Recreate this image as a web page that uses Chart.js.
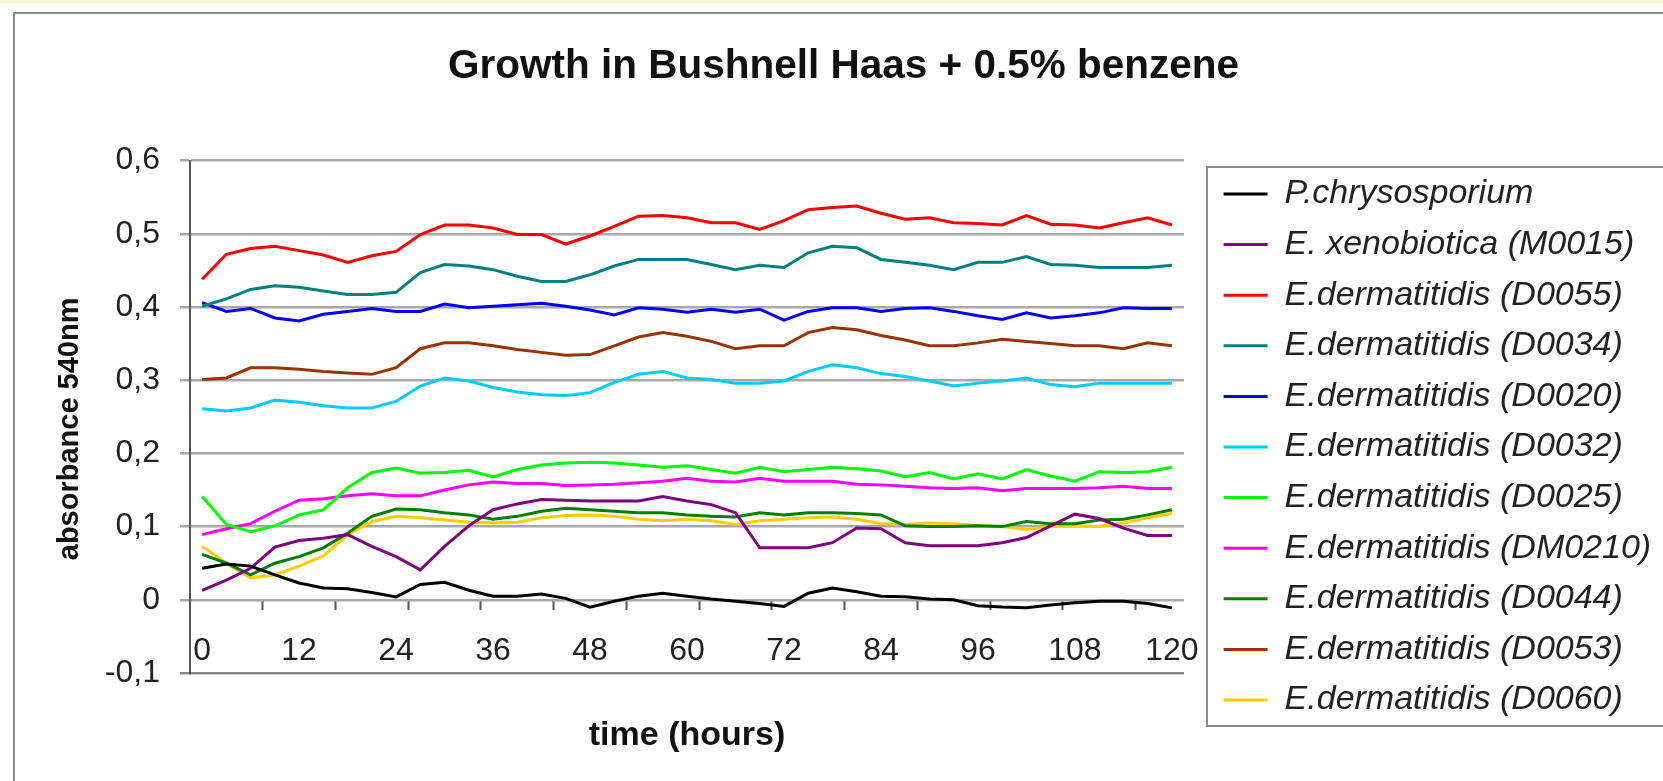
<!DOCTYPE html>
<html>
<head>
<meta charset="utf-8">
<title>Growth in Bushnell Haas + 0.5% benzene</title>
<script src="https://cdn.jsdelivr.net/npm/chart.js@4.4.1/dist/chart.umd.min.js"></script>
<style>
  html, body { margin: 0; padding: 0; background: #fff; }
  canvas { display: block; }
</style>
</head>
<body>
<canvas id="myChart" width="1663" height="781"></canvas>
<script>
// time points, every 3 hours
var hours = ["0","3","6","9","12","15","18","21","24","27","30","33","36","39","42","45","48","51","54","57","60",
             "63","66","69","72","75","78","81","84","87","90","93","96","99","102","105","108","111","114","117","120"];

var yTicks = [-0.1, 0, 0.1, 0.2, 0.3, 0.4, 0.5, 0.6];

var pChrysosporium = [0.043,0.049,0.046,0.034,0.023,0.016,0.015,0.010,0.004,0.021,0.024,0.013,0.005,0.005,0.008,0.002,-0.010,
  -0.002,0.005,0.009,0.005,0.001,-0.002,-0.005,-0.009,0.009,0.016,0.011,0.005,0.004,0.001,0.000,-0.008,
  -0.010,-0.011,-0.007,-0.004,-0.002,-0.002,-0.005,-0.011];
var m0015 = [0.013,0.027,0.043,0.072,0.081,0.084,0.089,0.073,0.059,0.041,0.073,0.101,0.123,0.131,0.137,0.136,0.135,
  0.135,0.135,0.141,0.135,0.130,0.119,0.071,0.071,0.071,0.078,0.098,0.097,0.078,0.074,0.074,0.074,
  0.078,0.085,0.101,0.117,0.111,0.098,0.088,0.088];
var d0055 = [0.438,0.472,0.480,0.483,0.477,0.471,0.461,0.470,0.476,0.499,0.512,0.512,0.508,0.499,0.499,0.486,0.497,
  0.510,0.524,0.525,0.522,0.515,0.515,0.506,0.518,0.533,0.536,0.538,0.528,0.520,0.522,0.515,0.514,
  0.512,0.525,0.513,0.512,0.508,0.515,0.522,0.512];
var d0034 = [0.401,0.411,0.424,0.429,0.427,0.422,0.417,0.417,0.420,0.447,0.458,0.456,0.451,0.442,0.435,0.435,0.444,
  0.456,0.465,0.465,0.465,0.458,0.451,0.457,0.454,0.474,0.483,0.481,0.465,0.461,0.457,0.451,0.461,
  0.461,0.469,0.458,0.457,0.454,0.454,0.454,0.457];
var d0020 = [0.406,0.394,0.398,0.385,0.381,0.390,0.394,0.398,0.394,0.394,0.404,0.399,0.401,0.403,0.405,0.401,0.396,
  0.389,0.399,0.397,0.393,0.397,0.393,0.397,0.382,0.394,0.399,0.399,0.394,0.398,0.399,0.394,0.388,
  0.383,0.392,0.385,0.388,0.392,0.399,0.398,0.398];
var d0032 = [0.261,0.258,0.262,0.273,0.270,0.265,0.262,0.262,0.271,0.292,0.303,0.299,0.290,0.284,0.280,0.279,0.283,
  0.297,0.308,0.312,0.303,0.301,0.296,0.296,0.299,0.312,0.321,0.317,0.309,0.305,0.299,0.292,0.296,
  0.299,0.303,0.294,0.291,0.296,0.296,0.296,0.296];
var d0025 = [0.141,0.103,0.093,0.101,0.116,0.123,0.153,0.174,0.180,0.173,0.174,0.177,0.168,0.178,0.184,0.187,0.188,
  0.187,0.184,0.181,0.183,0.178,0.173,0.181,0.175,0.178,0.181,0.179,0.176,0.168,0.174,0.165,0.172,
  0.165,0.178,0.169,0.162,0.175,0.174,0.175,0.181];
var dm0210 = [0.089,0.097,0.104,0.121,0.136,0.138,0.142,0.145,0.142,0.142,0.150,0.157,0.161,0.159,0.159,0.156,0.157,
  0.158,0.160,0.162,0.166,0.162,0.161,0.166,0.162,0.162,0.162,0.158,0.157,0.155,0.153,0.152,0.153,
  0.149,0.152,0.152,0.152,0.153,0.155,0.152,0.152];
var d0044 = [0.062,0.050,0.034,0.050,0.059,0.071,0.091,0.114,0.124,0.123,0.119,0.116,0.110,0.114,0.121,0.125,0.123,
  0.121,0.119,0.119,0.116,0.114,0.113,0.119,0.116,0.119,0.119,0.118,0.116,0.101,0.100,0.100,0.101,
  0.100,0.107,0.104,0.104,0.109,0.110,0.116,0.123];
var d0053 = [0.301,0.303,0.317,0.317,0.315,0.312,0.310,0.308,0.317,0.343,0.351,0.351,0.347,0.342,0.338,0.334,0.335,
  0.347,0.359,0.365,0.360,0.353,0.343,0.347,0.347,0.365,0.372,0.369,0.361,0.355,0.347,0.347,0.351,
  0.356,0.353,0.350,0.347,0.347,0.343,0.351,0.347];
var d0060 = [0.073,0.050,0.030,0.034,0.046,0.060,0.089,0.107,0.114,0.112,0.109,0.106,0.105,0.106,0.112,0.115,0.116,
  0.114,0.110,0.108,0.110,0.108,0.103,0.108,0.110,0.112,0.113,0.110,0.104,0.103,0.105,0.104,0.101,
  0.100,0.096,0.100,0.101,0.100,0.105,0.112,0.118];

var names = ["P.chrysosporium", "E. xenobiotica (M0015)", "E.dermatitidis (D0055)", "E.dermatitidis (D0034)",
  "E.dermatitidis (D0020)", "E.dermatitidis (D0032)", "E.dermatitidis (D0025)", "E.dermatitidis (DM0210)",
  "E.dermatitidis (D0044)", "E.dermatitidis (D0053)", "E.dermatitidis (D0060)"];
var series = [pChrysosporium, m0015, d0055, d0034, d0020, d0032, d0025, dm0210, d0044, d0053, d0060];
var colors = ["#000000", "#800080", "#FF0000", "#008080", "#0000FF", "#00CCFF",
  "#00FF00", "#FF00FF", "#008000", "#993300", "#FFCC00"];

var FONT = "'Liberation Sans', Arial, sans-serif";
Chart.defaults.font.family = FONT;
Chart.defaults.color = "#222";

// legend sizes: work out its width so the plot ends where the original does
var legFont = 34, legPad = 16.6, legLine = 44;
var mctx = document.createElement('canvas').getContext('2d');
mctx.font = "italic " + legFont + "px " + FONT;
var maxText = 0;
names.forEach(function (n) { maxText = Math.max(maxText, mctx.measureText(n).width); });
var legWidth = legPad + legLine + legFont / 2 + maxText + 10;
var plotLeft = 190, plotRight = 1184, gap = 23, padLeft = 26;
var padRight = Math.max(0, 1663 - plotRight - gap - legWidth);
// legend sits at the bottom of its box; the first entry starts near y = 177
var legTop = 177;
var padBottom = 781 - legTop - names.length * (legFont + legPad);
var plotBottomSpace = 108;

var datasets = series.map(function (s, i) {
  return {
    label: names[i],
    data: s,
    xAxisID: 'x',
    yAxisID: 'y',
    borderColor: colors[i],
    backgroundColor: colors[i],
    borderWidth: 3,
    pointRadius: 0,
    pointStyle: 'line',
    tension: 0,
    fill: false
  };
});

// grey frame round the chart, legend border
var framePlugin = {
  id: 'frame',
  beforeDraw: function (chart) {
    var ctx = chart.ctx;
    ctx.save();
    ctx.fillStyle = '#ffffff';
    ctx.fillRect(0, 0, chart.width, chart.height);
    ctx.fillStyle = '#fbf9cf';
    ctx.fillRect(0, 0, chart.width, 3);
    ctx.strokeStyle = '#8c8c8c';
    ctx.lineWidth = 2;
    ctx.strokeRect(14, 13, chart.width + 20, chart.height + 20);
    ctx.restore();
  },
  afterDraw: function (chart) {
    var lg = chart.legend;
    var hb = lg.legendHitBoxes;
    if (!hb || !hb.length) return;
    var top = hb[0].top - 10;
    var last = hb[hb.length - 1];
    var bottom = last.top + last.height + 9;
    var ctx = chart.ctx;
    ctx.save();
    ctx.strokeStyle = '#8c8c8c';
    ctx.lineWidth = 2;
    ctx.strokeRect(lg.left, top, chart.width, bottom - top);
    ctx.restore();
  }
};

var ctx = document.getElementById("myChart");

var myChart = new Chart(ctx, {
  type: 'line',
  data: { labels: hours, datasets: datasets },
  plugins: [framePlugin],
  options: {
    responsive: false,
    animation: false,
    layout: { padding: { top: 20, left: padLeft, right: padRight, bottom: padBottom } },
    plugins: {
      title: {
        display: true,
        text: 'Growth in Bushnell Haas + 0.5% benzene',
        color: '#111',
        font: { size: 40.5, weight: 'bold' },
        padding: { top: 23, bottom: 69 }
      },
      legend: {
        position: 'right',
        align: 'end',
        fullSize: true,
        maxWidth: legWidth + 2,
        labels: {
          usePointStyle: true,
          pointStyle: 'line',
          pointStyleWidth: legLine,
          padding: legPad,
          color: '#222',
          font: { size: legFont, style: 'italic' }
        }
      },
      tooltip: { enabled: false }
    },
    scales: {
      x: {
        type: 'category',
        position: { y: 0 },
        offset: true,
        border: { display: false },
        grid: {
          display: true,
          offset: true,
          drawOnChartArea: false,
          drawTicks: true,
          tickLength: 10,
          tickWidth: 2,
          tickColor: function (c) {
            return (c.index > 0 && c.index < hours.length && c.index % 3 === 0) ? '#555' : 'rgba(0,0,0,0)';
          }
        },
        ticks: {
          autoSkip: false,
          maxRotation: 0,
          padding: 22,
          color: '#222',
          font: { size: 32 },
          callback: function (v, i) { return i % 4 === 0 ? hours[i] : ''; }
        },
        title: {
          display: true,
          text: 'time (hours)',
          color: '#111',
          font: { size: 34, weight: 'bold' },
          padding: { top: 23, bottom: 0 }
        }
      },
      // empty strip under the plot (keeps the plot bottom at -0,1)
      xPad: {
        type: 'linear',
        position: 'bottom',
        display: true,
        border: { display: false },
        grid: { display: false, drawTicks: false },
        ticks: { display: false },
        afterFit: function (s) { s.height = plotBottomSpace - padBottom; }
      },
      y: {
        min: -0.1,
        max: 0.6,
        afterBuildTicks: function (s) {
          s.ticks = yTicks.map(function (v) { return { value: v }; });
        },
        afterFit: function (s) { s.width = plotLeft - padLeft; },
        border: { display: true, color: '#555', width: 2 },
        grid: {
          color: function (c) { return (c.tick && c.tick.value < -0.05) ? '#8a8a8a' : '#a8a8a8'; },
          lineWidth: 2.5,
          tickLength: 10
        },
        ticks: {
          padding: 20,
          color: '#222',
          font: { size: 32 },
          callback: function (v) {
            if (Math.abs(v) < 1e-9) return '0';
            return v.toFixed(1).replace('.', ',');
          }
        },
        title: {
          display: true,
          text: 'absorbance 540nm   ',
          color: '#111',
          font: { size: 29, weight: 'bold' },
          padding: { top: 27, bottom: 0 }
        }
      },
      // gap between the plot and the legend box
      yPad: {
        type: 'linear',
        position: 'right',
        display: true,
        border: { display: false },
        grid: { display: false, drawTicks: false },
        ticks: { display: false },
        afterFit: function (s) { s.width = gap; }
      }
    }
  }
});
</script>
</body>
</html>
